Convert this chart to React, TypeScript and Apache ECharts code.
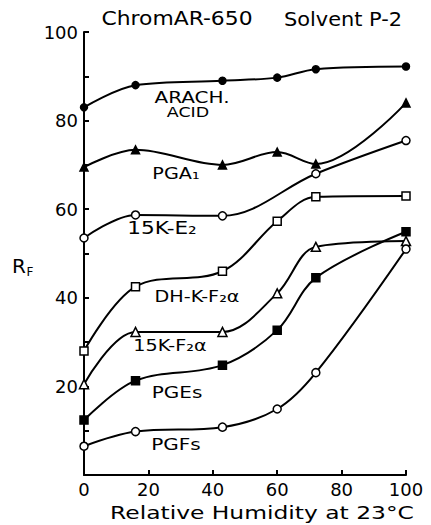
import React, { useEffect, useRef } from "react";
import * as echarts from "echarts";

const humidity = [0, 16, 43, 60, 72, 100];
const arachAcid = [83, 88, 89, 89.7, 91.6, 92.2];
const pga1 = [69.5, 73.4, 70, 72.9, 70.2, 84];
const k15E2 = [53.5, 58.7, 58.5, null, 68, 75.5];
const dhKF2a = [28, 42.5, 46, 57.3, 62.8, 63];
const k15F2a = [20.5, 32.3, 32.3, 41, 51.5, 52.8];
const pgEs = [12.4, 21.3, 24.8, 32.7, 44.5, 54.9];
const pgFs = [6.5, 9.8, 10.8, 14.9, 23.1, 51];

const yTicks = [20, 40, 60, 80, 100];
const xTicks = [0, 20, 40, 60, 80, 100];

const FONT = "DejaVu Sans";

export default function App() {
  const ref = useRef<HTMLDivElement>(null);
  useEffect(() => {
    if (!ref.current) return;
    const chart = echarts.init(ref.current, null, { renderer: "svg" });
    const mk = (
      name: string,
      vals: (number | null)[],
      symbol: string,
      filled: boolean,
      size = 8
    ) => ({
      name,
      type: "line",
      smooth: 0.35,
      connectNulls: true,
      data: humidity.map((x, i) => [x, vals[i]]).filter((p) => p[1] !== null),
      symbol,
      symbolSize: size,
      showAllSymbol: true,
      lineStyle: { color: "#000", width: 2 },
      itemStyle: {
        color: filled ? "#000" : "#fff",
        borderColor: "#000",
        borderWidth: 1.5,
      },
      z: 3,
    });
    const txt = (x: number, y: number, text: string, size = 15, sx = 1.2) => ({
      type: "text",
      x,
      y,
      scaleX: sx,
      style: {
        text,
        font: `${size}px "${FONT}"`,
        fill: "#000",
        textAlign: "center",
        textVerticalAlign: "middle",
      },
    });
    chart.setOption({
      animation: false,
      backgroundColor: "#fff",
      grid: { left: 84, right: 25, top: 32, bottom: 50 },
      xAxis: {
        type: "value",
        min: 0,
        max: 100,
        interval: 20,
        axisLine: { lineStyle: { color: "#000", width: 2 } },
        axisTick: { show: true, inside: true, length: 5, lineStyle: { color: "#000", width: 2 } },
        axisLabel: {
          color: "#000",
          fontFamily: FONT,
          fontSize: 18,
          margin: 5,
          formatter: (v: number) => (xTicks.includes(v) ? String(v) : ""),
        },
        splitLine: { show: false },
      },
      yAxis: {
        type: "value",
        min: 0,
        max: 100,
        interval: 10,
        axisLine: { show: true, lineStyle: { color: "#000", width: 2 } },
        axisTick: { show: true, inside: true, length: 5, lineStyle: { color: "#000", width: 2 } },
        axisLabel: {
          color: "#000",
          fontFamily: FONT,
          fontSize: 18,
          margin: 6,
          formatter: (v: number) => (yTicks.includes(v) ? String(v) : ""),
        },
        splitLine: { show: false },
      },
      graphic: [
        txt(19, 266, "R", 20, 1),
        txt(30, 272, "F", 12, 1),
        txt(177, 19, "ChromAR-650", 19, 1.15),
        txt(343, 19, "Solvent P-2", 19, 1.1),
        txt(262, 513, "Relative Humidity at 23°C", 18, 1.3),
        txt(192, 97, "ARACH.", 16, 1.25),
        txt(188, 112, "ACID", 14, 1.25),
        txt(176, 174, "PGA\u2081", 16, 1.2),
        txt(162, 228, "15K-E\u2082", 18, 1.2),
        txt(197, 297, "DH-K-F\u2082\u03b1", 16, 1.2),
        txt(170, 346, "15K-F\u2082\u03b1", 16, 1.2),
        txt(177, 392, "PGEs", 16, 1.25),
        txt(176, 444, "PGFs", 16, 1.25),
      ],
      series: [
        mk("ARACH. ACID", arachAcid, "circle", true, 7),
        mk("PGA1", pga1, "triangle", true, 8),
        mk("15K-E2", k15E2, "circle", false, 8),
        mk("DH-K-F2a", dhKF2a, "rect", false, 8),
        mk("15K-F2a", k15F2a, "triangle", false, 9),
        mk("PGEs", pgEs, "rect", true, 8),
        mk("PGFs", pgFs, "circle", false, 8),
      ],
    });
    return () => chart.dispose();
  }, []);
  return <div ref={ref} style={{ width: 431, height: 525, position: "absolute", left: 0, top: 0 }} />;
}
